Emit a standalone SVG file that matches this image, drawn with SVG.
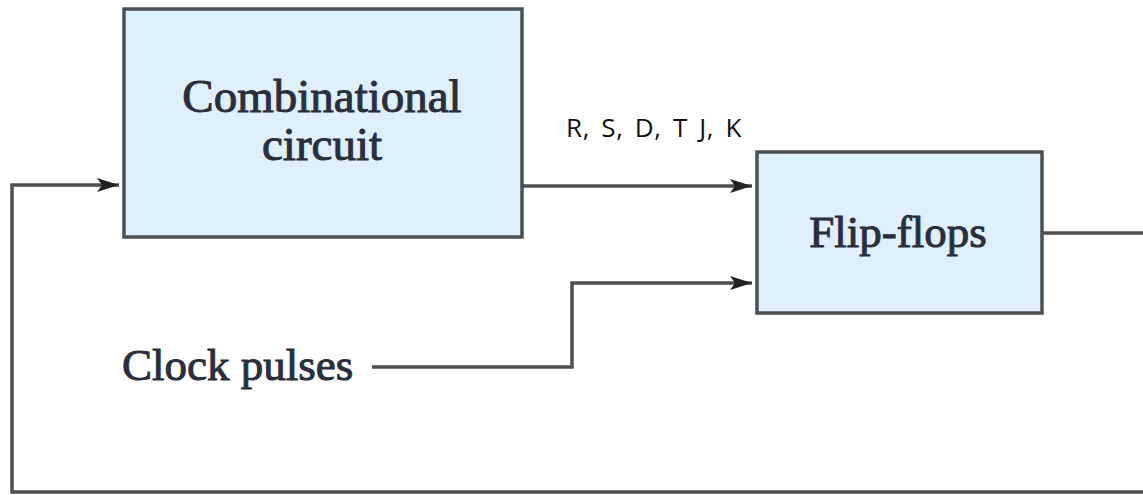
<svg xmlns="http://www.w3.org/2000/svg" width="1143" height="495" viewBox="0 0 1143 495">
<style>
.box{fill:#dff0fb;stroke:#4a5054;stroke-width:3.5}
.ln{fill:none;stroke:#4e4e4e;stroke-width:3.5}
.t{font-family:"Liberation Serif","Times New Roman",serif;font-size:45px;fill:#2a2f3d;stroke:#2a2f3d;stroke-width:1}
.lbl{font-family:"Open Sans","DejaVu Sans",sans-serif;font-size:26px;letter-spacing:0.6px;word-spacing:4px;fill:#111}
</style>
<defs>
<marker id="ah" markerUnits="userSpaceOnUse" markerWidth="24" markerHeight="16" refX="22" refY="8" orient="auto">
<path d="M0,1 L22,8 L0,15 L5,8 Z" fill="#222"/>
</marker>
</defs>
<rect width="1143" height="495" fill="#fff"/>
<g id="connectors">
<path class="ln" d="M522,186 H752" marker-end="url(#ah)"/>
<path class="ln" d="M372,367 H572 V283 H752" marker-end="url(#ah)"/>
<path class="ln" d="M1042,233 H1143"/>
<path class="ln" d="M1143,492 H12 V185 H119" marker-end="url(#ah)"/>
</g>
<g id="combinational">
<rect class="box" x="124" y="9" width="398" height="228"/>
<text class="t" x="322" y="112" text-anchor="middle" style="font-size:47px">Combinational</text>
<text class="t" x="322" y="160" text-anchor="middle" style="font-size:47px">circuit</text>
</g>
<g id="flipflops">
<rect class="box" x="757" y="152" width="285" height="161"/>
<text class="t" x="898" y="247" text-anchor="middle">Flip-flops</text>
</g>
<g id="clock">
<text class="t" x="122" y="380">Clock pulses</text>
</g>
<g id="label">
<text class="lbl" x="566" y="137">R, S, D, T J, K</text>
</g>
</svg>
